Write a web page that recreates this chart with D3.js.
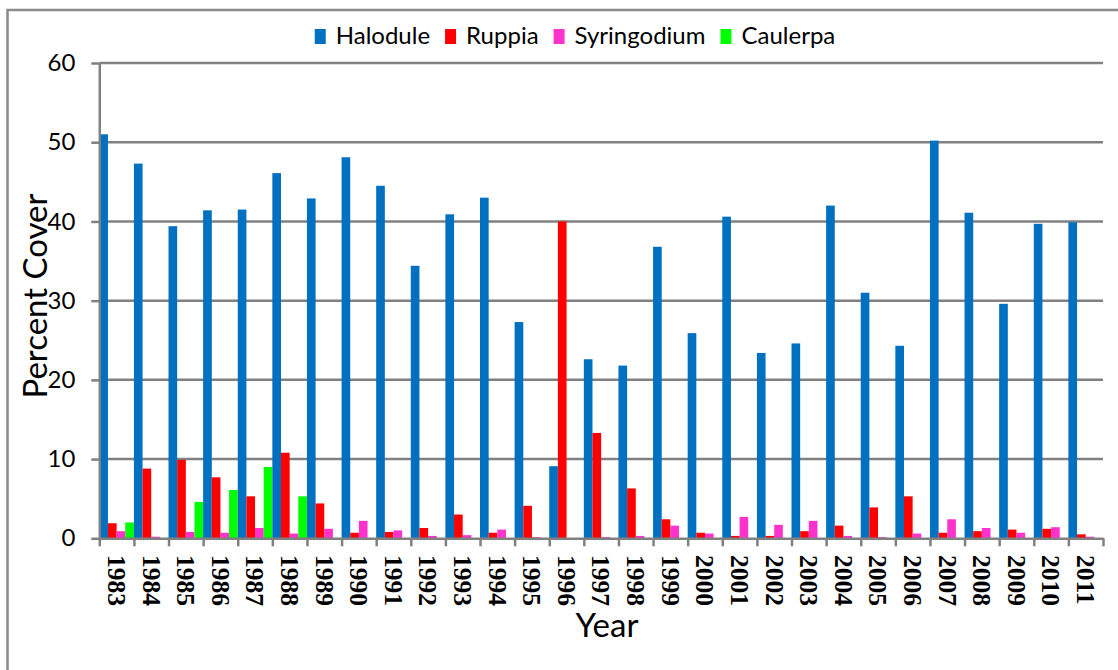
<!DOCTYPE html>
<html>
<head>
<meta charset="utf-8">
<script src="https://cdn.jsdelivr.net/npm/d3@7"></script>
<style>
  html, body { margin: 0; padding: 0; background: #fff; }
  svg { display: block; }
</style>
</head>
<body>
<svg id="chart" width="1118" height="670"></svg>
<script>
// Seagrass / macroalgae percent cover by year
const years = ["1983","1984","1985","1986","1987","1988","1989","1990","1991","1992",
               "1993","1994","1995","1996","1997","1998","1999","2000","2001","2002",
               "2003","2004","2005","2006","2007","2008","2009","2010","2011"];
const seriesNames = ["Halodule", "Ruppia", "Syringodium", "Caulerpa"];
const seriesColors = ["#0070C0", "#FF0000", "#FF33CC", "#00FF00"];

const halodule    = [51.0, 47.3, 39.4, 41.4, 41.5, 46.1, 42.9, 48.1, 44.5, 34.4,
                     40.9, 43.0, 27.3, 9.1, 22.6, 21.8, 36.8, 25.9, 40.6, 23.4,
                     24.6, 42.0, 31.0, 24.3, 50.2, 41.1, 29.6, 39.7, 39.9];
const ruppia      = [1.9, 8.8, 9.9, 7.7, 5.3, 10.8, 4.4, 0.7, 0.8, 1.3,
                     3.0, 0.7, 4.1, 40.0, 13.3, 6.3, 2.4, 0.7, 0.3, 0.3,
                     0.9, 1.6, 3.9, 5.3, 0.7, 0.9, 1.1, 1.2, 0.5];
const syringodium = [0.9, 0.2, 0.8, 0.7, 1.3, 0.6, 1.2, 2.2, 1.0, 0.3,
                     0.4, 1.1, 0.15, 0, 0.15, 0.3, 1.6, 0.6, 2.7, 1.7,
                     2.2, 0.3, 0.15, 0.6, 2.4, 1.3, 0.7, 1.4, 0.2];
const caulerpa    = [2.0, 0, 4.6, 6.1, 9.0, 5.3, 0, 0, 0, 0,
                     0, 0, 0, 0, 0, 0, 0, 0, 0, 0,
                     0, 0, 0, 0, 0, 0, 0, 0, 0];
const yTicks = [0, 10, 20, 30, 40, 50, 60];

const seriesValues = [halodule, ruppia, syringodium, caulerpa];
const rows = years.map((yr, i) => ({
  year: yr,
  values: seriesNames.map((name, s) => ({ name, value: seriesValues[s][i], color: seriesColors[s] }))
}));

const svg = d3.select("#chart");
const axisColor = "#808080";
const sansFont = "Lato, 'Open Sans', sans-serif";

// chart frame
svg.append("rect")
  .attr("x", 7.5).attr("y", 10)
  .attr("width", 1200).attr("height", 700)
  .attr("fill", "none").attr("stroke", "#8a8a8a").attr("stroke-width", 2.5);

const plot = { left: 99.3, right: 1103, top: 63, bottom: 538.3 };

const x = d3.scaleBand().domain(years).range([plot.left, plot.right]).paddingInner(0).paddingOuter(0);
const xs = d3.scaleBand().domain(seriesNames).range([0, x.bandwidth()]).padding(0);
const y = d3.scaleLinear().domain([0, 60]).range([plot.bottom, plot.top]);

// horizontal gridlines
svg.append("g")
  .selectAll("line")
  .data(yTicks.filter(t => t > 0))
  .join("line")
  .attr("x1", plot.left).attr("x2", plot.right)
  .attr("y1", d => y(d)).attr("y2", d => y(d))
  .attr("stroke", axisColor).attr("stroke-width", 2.5);

// grouped bars
const groups = svg.append("g")
  .selectAll("g")
  .data(rows)
  .join("g")
  .attr("transform", d => `translate(${x(d.year)},0)`);

groups.selectAll("rect")
  .data(d => d.values)
  .join("rect")
  .attr("x", d => xs(d.name))
  .attr("width", xs.bandwidth())
  .attr("y", d => y(d.value))
  .attr("height", d => y(0) - y(d.value))
  .attr("fill", d => d.color);

// y axis
const yAxis = svg.append("g")
  .attr("transform", `translate(${plot.left},0)`)
  .call(d3.axisLeft(y).tickValues(yTicks).tickSize(8).tickSizeOuter(0).tickPadding(16));
yAxis.select(".domain").attr("stroke", axisColor).attr("stroke-width", 2.5);
yAxis.selectAll(".tick line").attr("stroke", axisColor).attr("stroke-width", 2.5);
yAxis.selectAll(".tick text")
  .attr("font-family", sansFont).attr("font-size", 24).attr("fill", "#000");

// x axis: ticks at category boundaries
const edge = d3.scaleLinear().domain([0, years.length]).range([plot.left, plot.right]);
const xAxis = svg.append("g")
  .attr("transform", `translate(0,${plot.bottom})`)
  .call(d3.axisBottom(edge).tickValues(d3.range(years.length + 1)).tickSize(8).tickSizeOuter(0).tickFormat(""));
xAxis.select(".domain").attr("stroke", axisColor).attr("stroke-width", 2.5);
xAxis.selectAll(".tick line").attr("stroke", axisColor).attr("stroke-width", 2.5);

// rotated year labels
svg.append("g")
  .selectAll("text")
  .data(years)
  .join("text")
  .attr("transform", d => `translate(${x(d) + x.bandwidth() / 2},555) rotate(90)`)
  .attr("dy", "0.34em")
  .attr("text-anchor", "start")
  .attr("font-family", "'Liberation Serif', 'Times New Roman', serif")
  .attr("font-weight", "bold")
  .attr("font-size", 25.5)
  .attr("fill", "#000")
  .text(d => d);

// axis titles
svg.append("text")
  .attr("transform", "translate(47,296) rotate(-90)")
  .attr("text-anchor", "middle")
  .attr("font-family", sansFont).attr("font-size", 33).attr("fill", "#000")
  .text("Percent Cover");

svg.append("text")
  .attr("x", 607).attr("y", 637)
  .attr("text-anchor", "middle")
  .attr("font-family", sansFont).attr("font-size", 33).attr("fill", "#000")
  .text("Year");

// legend
const legend = svg.append("g");
const swW = 11, swH = 15, swGap = 10, itemGap = 15;
let cursor = 0;
seriesNames.forEach((name, i) => {
  const item = legend.append("g").attr("transform", `translate(${cursor},0)`);
  item.append("rect")
    .attr("x", 0).attr("y", 29).attr("width", swW).attr("height", swH)
    .attr("fill", seriesColors[i]);
  const t = item.append("text")
    .attr("x", swW + swGap).attr("y", 44)
    .attr("font-family", sansFont).attr("font-size", 24).attr("fill", "#000")
    .text(name);
  cursor += swW + swGap + t.node().getComputedTextLength() + itemGap;
});
const legendWidth = cursor - itemGap;
legend.attr("transform", `translate(${575 - legendWidth / 2},0)`);
</script>
</body>
</html>
